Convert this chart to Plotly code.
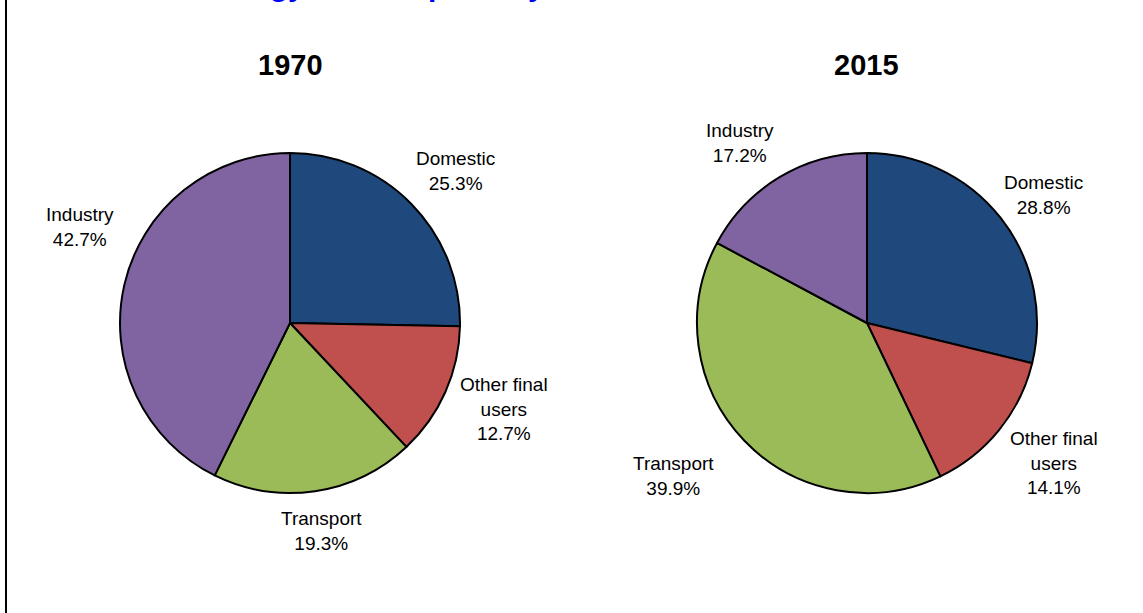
import plotly.graph_objects as go

# Final energy consumption by user, share of total (%)
categories = ["Domestic", "Other final users", "Transport", "Industry"]
share_1970 = [25.3, 12.7, 19.3, 42.7]
share_2015 = [28.8, 14.1, 39.9, 17.2]
years = ["1970", "2015"]

colours = ["#1F497D", "#C0504D", "#9BBB59", "#8064A2"]

W, H = 1143, 613
FONT = "Liberation Sans, Arial, sans-serif"

# pie centres (px) and where Excel put each data label (px, same order as categories)
centres = [(290, 323), (867, 323)]
label_pos = [
    [(455, 171), (504, 409), (321, 531), (80, 227)],
    [(1043, 195), (1054, 463), (673, 476), (740, 143)],
]

# wrap the long label like the original
label_text = [c.replace("final ", "final<br>") for c in categories]


def px_x(p):
    return p / W


def px_y(p):
    return 1 - p / H


def pie_trace(values, cx, cy, r=170):
    return go.Pie(
        labels=categories,
        values=values,
        textinfo="none",
        marker=dict(colors=colours, line=dict(color="black", width=2)),
        sort=False,
        direction="clockwise",
        rotation=0,
        showlegend=False,
        hoverinfo="label+value",
        domain=dict(x=[px_x(cx - r), px_x(cx + r)], y=[px_y(cy + r), px_y(cy - r)]),
    )


fig = go.Figure()
for vals, (cx, cy), yr, positions in zip([share_1970, share_2015], centres, years, label_pos):
    fig.add_trace(pie_trace(vals, cx, cy))

    # year heading
    fig.add_annotation(
        text=f"<b>{yr}</b>", x=px_x(cx), y=px_y(65), xref="paper", yref="paper",
        showarrow=False, xanchor="center", yanchor="middle",
        font=dict(family=FONT, size=29, color="black"),
    )

    # data labels
    for txt, v, (lx, ly) in zip(label_text, vals, positions):
        fig.add_annotation(
            text=f"{txt}<br>{v:.1f}%", x=px_x(lx), y=px_y(ly), xref="paper", yref="paper",
            showarrow=False, xanchor="center", yanchor="middle", align="center",
            font=dict(family=FONT, size=19, color="black"),
        )

# chart title, cropped off the top in the original
fig.add_annotation(
    text="<b>Final energy consumption by user</b>", x=px_x(126), y=px_y(4),
    xref="paper", yref="paper", showarrow=False, xanchor="left", yanchor="bottom",
    font=dict(family=FONT, size=30, color="#0000FF"),
)

# left frame edge
fig.add_shape(type="line", xref="paper", yref="paper",
              x0=px_x(6), x1=px_x(6), y0=0, y1=1,
              line=dict(color="black", width=2))

fig.update_layout(
    width=W, height=H,
    margin=dict(l=0, r=0, t=0, b=0),
    paper_bgcolor="white",
    plot_bgcolor="white",
)

fig.write_html("out.html", config={"displayModeBar": False},
               post_script="document.body.style.margin='0';")
